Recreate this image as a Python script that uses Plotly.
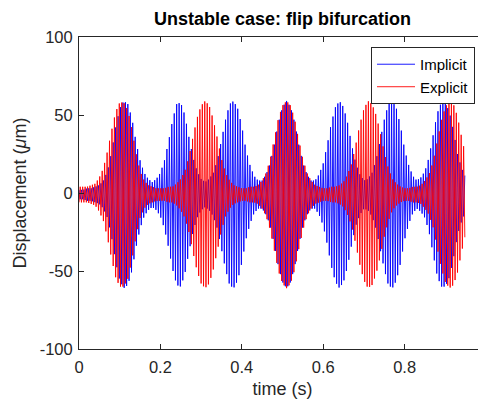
import numpy as np
import plotly.graph_objects as go

# Envelope amplitudes (µm), at knot times every 0.01 s
t_knots = [round(0.01 * i, 2) for i in range(96)]

implicit_amp = [
    3, 3, 4, 4, 5, 6, 9, 15, 27, 43,
    55, 60, 58, 49, 34, 22, 14, 10, 8, 10,
    14, 22, 34, 48, 58, 59, 51, 37, 24, 15,
    10, 8, 10, 14, 22, 35, 48, 58, 60, 55,
    44, 29, 19, 12, 9, 9, 13, 20, 32, 46,
    56, 60, 56, 46, 32, 20, 13, 9, 9, 13,
    20, 32, 46, 56, 60, 56, 46, 32, 20, 13,
    9, 10, 14, 22, 35, 48, 58, 60, 55, 44,
    29, 19, 12, 9, 11, 15, 24, 38, 52, 59,
    59, 53, 41, 26, 17, 11,
]

explicit_amp = [
    5, 5, 5, 6, 7, 11, 17, 28, 41, 53,
    59, 59, 54, 42, 27, 15, 9, 6, 5, 4,
    4, 4, 5, 5, 7, 10, 15, 24, 37, 49,
    57, 60, 57, 48, 36, 23, 14, 9, 6, 5,
    4, 4, 5, 5, 6, 9, 14, 23, 36, 49,
    57, 60, 57, 48, 35, 23, 14, 9, 6, 5,
    4, 4, 5, 5, 6, 8, 13, 20, 32, 45,
    55, 60, 58, 51, 40, 27, 17, 10, 7, 5,
    4, 4, 5, 5, 6, 9, 13, 21, 34, 47,
    56, 60, 58, 50, 37, 25,
]

center_offset = -1.0      # slight negative bias of the oscillation (µm)
sample_step = 0.003       # time between samples of the period-2 (flip) oscillation

x_ticks = [0, 0.2, 0.4, 0.6, 0.8, 1]
x_tick_text = ["0", "0.2", "0.4", "0.6", "0.8", "1"]
y_ticks = [-100, -50, 0, 50, 100]
y_tick_text = ["-100", "-50", "0", "50", "100"]


def flip_signal(knots, amp, phase):
    t = np.arange(0, knots[-1] + 1e-9, sample_step)
    env = np.interp(t, knots, amp)
    sign = np.where((np.arange(len(t)) + phase) % 2 == 0, 1.0, -1.0)
    return t, center_offset + sign * env


t_imp, y_imp = flip_signal(t_knots, implicit_amp, 0)
t_exp, y_exp = flip_signal(t_knots, explicit_amp, 1)

AX = "#262626"
FONT = "Liberation Sans, Arial, sans-serif"

fig = go.Figure()
fig.add_trace(go.Scatter(x=t_imp, y=y_imp, mode="lines", name="Implicit",
                         line=dict(color="#0000FF", width=0.9)))
fig.add_trace(go.Scatter(x=t_exp, y=y_exp, mode="lines", name="Explicit",
                         line=dict(color="#FF0000", width=0.9)))

# the page body has an 8px margin, so the figure is shifted by 8px
fig.update_layout(
    width=478, height=395,
    margin=dict(l=71, r=0, t=29, b=54, autoexpand=False),
    paper_bgcolor="white", plot_bgcolor="white",
    font=dict(family=FONT, size=16, color=AX),
    title=dict(text="<b>Unstable case: flip bifurcation</b>",
               font=dict(size=18, color="black"),
               x=0.5, xref="paper", xanchor="center",
               y=1 - 11 / 395, yref="container", yanchor="middle"),
    showlegend=True,
    legend=dict(x=0.973, xanchor="right", y=0.968, yanchor="top",
                bgcolor="white", bordercolor=AX, borderwidth=1,
                font=dict(size=15, color="black"),
                tracegroupgap=0, itemwidth=38),
)

fig.update_xaxes(
    range=[0, 1], tickvals=x_ticks, ticktext=x_tick_text,
    showgrid=False, zeroline=False, automargin=False,
    showline=True, linecolor=AX, linewidth=1, mirror="ticks",
    ticks="inside", ticklen=5, tickcolor=AX, ticklabelstandoff=3,
    tickfont=dict(size=16.5, color=AX),
    title=dict(text="time (s)", font=dict(size=18, color=AX), standoff=7),
)
fig.update_yaxes(
    range=[-100, 100], tickvals=y_ticks, ticktext=y_tick_text,
    showgrid=False, zeroline=False, automargin=False,
    showline=True, linecolor=AX, linewidth=1, mirror="ticks",
    ticks="inside", ticklen=5, tickcolor=AX, ticklabelstandoff=2,
    tickfont=dict(size=16.5, color=AX),
    title=dict(text="Displacement (<i>μ</i>m)", font=dict(size=18, color=AX), standoff=8),
)

fig.write_html("out.html")
